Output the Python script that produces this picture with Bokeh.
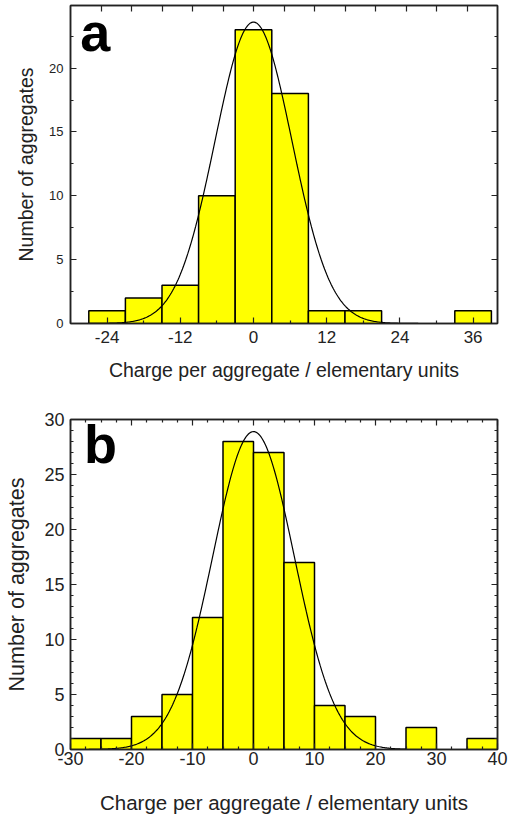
import numpy as np
from bokeh.plotting import figure
from bokeh.layouts import column
from bokeh.models import LinearAxis, FixedTicker, Range1d, Label, CustomJSTickFormatter
from bokeh.embed import file_html
from bokeh.resources import INLINE

# ---------------- data: panel a ----------------
edges_a = [-27, -21, -15, -9, -3, 3, 9, 15, 21, 27, 33, 39]
counts_a = [1, 2, 3, 10, 23, 18, 1, 1, 0, 0, 1]
fit_a_amp, fit_a_mu, fit_a_sigma = 23.6, 0.0, 6.3
fit_a_span = (-27, 27)
xticks_a = [-24, -12, 0, 12, 24, 36]
xticklabels_a = ["-24", "-12", "0", "12", "24", "36"]
xminor_a = [-30, -18, -6, 6, 18, 30]
xtop_a = [-25, -20, -15, -10, -5, 0, 5, 10, 15, 20, 25, 30, 35]
yticks_a = [0, 5, 10, 15, 20]
yticklabels_a = ["0", "5", "10", "15", "20"]
yminor_a = [2.5, 7.5, 12.5, 17.5, 22.5]

# ---------------- data: panel b ----------------
edges_b = [-30, -25, -20, -15, -10, -5, 0, 5, 10, 15, 20, 25, 30, 35, 40]
counts_b = [1, 1, 3, 5, 12, 28, 27, 17, 4, 3, 0, 2, 0, 1]
fit_b_amp, fit_b_mu, fit_b_sigma = 28.9, 0.0, 6.7
fit_b_span = (-27, 25)
xticks_b = [-30, -20, -10, 0, 10, 20, 30, 40]
xticklabels_b = ["-30", "-20", "-10", "0", "10", "20", "30", "40"]
xminor_b = [-27.5, -25, -22.5, -17.5, -15, -12.5, -7.5, -5, -2.5, 2.5, 5, 7.5,
            12.5, 15, 17.5, 22.5, 25, 27.5, 32.5, 35, 37.5]
yticks_b = [0, 5, 10, 15, 20, 25, 30]
yticklabels_b = ["0", "5", "10", "15", "20", "25", "30"]
yminor_b = [1, 2, 3, 4, 6, 7, 8, 9, 11, 12, 13, 14, 16, 17, 18, 19,
            21, 22, 23, 24, 26, 27, 28, 29]

FONT = "Liberation Sans"
XLABEL = "Charge per aggregate / elementary units"
YLABEL = "Number of aggregates"
INK = "#222222"


def style_axis(ax, ticker, ticks=None, labels=None, label_size="12px"):
    ax.ticker = ticker
    ax.major_tick_in = 6
    ax.major_tick_out = 0
    ax.minor_tick_in = 3
    ax.minor_tick_out = 0
    ax.major_tick_line_color = INK
    ax.minor_tick_line_color = INK
    ax.major_tick_line_width = 1.2
    ax.minor_tick_line_width = 1.2
    ax.axis_line_color = INK
    ax.axis_line_width = 1.5
    ax.major_label_text_font = FONT
    ax.major_label_text_color = INK
    if labels is not None:
        ax.major_label_text_font_size = label_size
        ax.major_label_overrides = {t: s for t, s in zip(ticks, labels)}
    else:
        ax.formatter = CustomJSTickFormatter(code="return '';")
        ax.major_label_standoff = 0
        ax.axis_label = None


def panel(edges, counts, amp, mu, sigma, span, ytop, height, borders,
          xt, xtl, xm, xtop, xtopm, yt, ytl, ym,
          xtick_size, ytick_size, xlab_size, ylab_size,
          letter, letter_pos, std):
    left, right, top, bottom = borders
    p = figure(width=513, height=height, x_range=Range1d(-30, 40),
               y_range=Range1d(0, ytop), output_backend="svg",
               toolbar_location=None,
               min_border_left=left, min_border_right=right,
               min_border_top=top, min_border_bottom=bottom)
    p.xgrid.visible = False
    p.ygrid.visible = False
    p.outline_line_color = INK
    p.outline_line_width = 1.5
    p.background_fill_color = "white"
    p.border_fill_color = "white"

    l = [edges[i] for i in range(len(counts)) if counts[i] > 0]
    r = [edges[i + 1] for i in range(len(counts)) if counts[i] > 0]
    t = [counts[i] for i in range(len(counts)) if counts[i] > 0]
    p.quad(left=l, right=r, top=t, bottom=0, fill_color="#FFFF00",
           line_color="black", line_width=1.5)

    xs = np.linspace(span[0], span[1], 300)
    ys = amp * np.exp(-(xs - mu) ** 2 / (2 * sigma ** 2))
    p.line(xs, ys, line_color="black", line_width=1.2)

    xa = p.xaxis[0]
    style_axis(xa, FixedTicker(ticks=xt, minor_ticks=xm), xt, xtl, xtick_size)
    xa.axis_label = XLABEL
    xa.axis_label_text_font = FONT
    xa.axis_label_text_font_size = xlab_size
    xa.axis_label_text_font_style = "normal"
    xa.axis_label_text_color = INK
    xa.major_label_standoff = std["xs"]
    xa.axis_label_standoff = std["xl"]

    ya = p.yaxis[0]
    style_axis(ya, FixedTicker(ticks=yt, minor_ticks=ym), yt, ytl, ytick_size)
    ya.axis_label = YLABEL
    ya.axis_label_text_font = FONT
    ya.axis_label_text_font_size = ylab_size
    ya.axis_label_text_font_style = "normal"
    ya.axis_label_text_color = INK
    ya.major_label_standoff = std["ys"]
    ya.axis_label_standoff = std["yl"]

    ta = LinearAxis()
    style_axis(ta, FixedTicker(ticks=xtop, minor_ticks=xtopm))
    p.add_layout(ta, "above")
    ra = LinearAxis()
    style_axis(ra, FixedTicker(ticks=yt, minor_ticks=ym))
    p.add_layout(ra, "right")

    p.add_layout(Label(x=letter_pos[0], y=letter_pos[1], text=letter,
                       text_font=FONT, text_font_style="bold",
                       text_font_size="54px", text_color="black",
                       text_baseline="alphabetic", text_align="left"))
    return p


pa = panel(edges_a, counts_a, fit_a_amp, fit_a_mu, fit_a_sigma, fit_a_span,
           24.9, 392, (69, 16, 5, 69),
           xticks_a, xticklabels_a, xminor_a, xtop_a, [],
           yticks_a, yticklabels_a, yminor_a,
           "17px", "13px", "19.5px", "19.5px", "a", (-28.4, 22.8),
           dict(xs=7, xl=13, ys=7, yl=9))
pb = panel(edges_b, counts_b, fit_b_amp, fit_b_mu, fit_b_sigma, fit_b_span,
           30, 428, (70, 12, 27, 71),
           xticks_b, xticklabels_b, xminor_b, xticks_b, xminor_b,
           yticks_b, yticklabels_b, yminor_b,
           "18px", "18px", "20.5px", "21.5px", "b", (-27.8, 27.8),
           dict(xs=2, xl=23, ys=6, yl=12))

layout = column(pa, pb, spacing=0)
open("out.html", "w").write(file_html(layout, INLINE))
